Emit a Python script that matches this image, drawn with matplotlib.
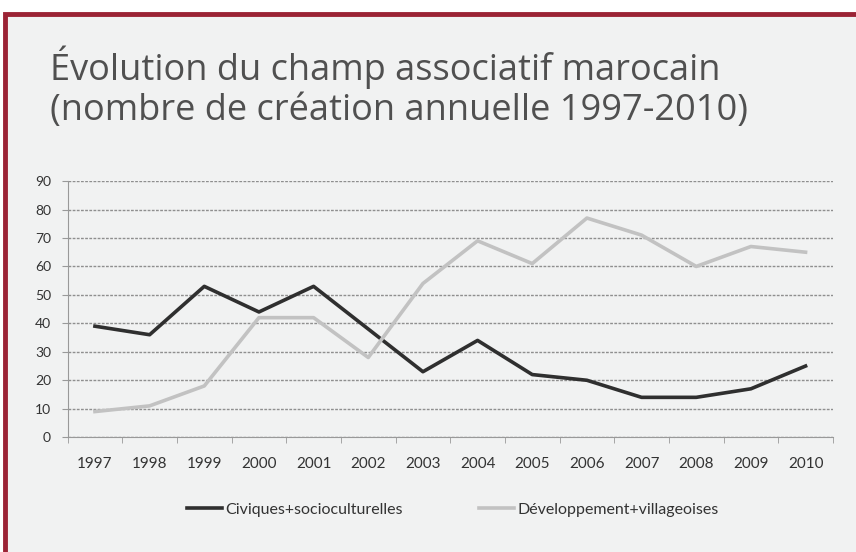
import matplotlib.pyplot as plt
from matplotlib.patches import Rectangle

years = [str(y) for y in range(1997, 2011)]
civiques = [39, 36, 53, 44, 53, 38, 23, 34, 22, 20, 14, 14, 17, 25]
developpement = [9, 11, 18, 42, 42, 28, 54, 69, 61, 77, 71, 60, 67, 65]
labels = ["Civiques+socioculturelles", "Développement+villageoises"]
title = "Évolution du champ associatif marocain\n(nombre de création annuelle 1997-2010)"

plt.rcParams['font.family'] = ['Lato', 'DejaVu Sans']

fig = plt.figure(figsize=(8.56, 5.52), dpi=100)
fig.patch.set_facecolor("white")

# scanned page background + red frame
fig.patches.append(Rectangle((0.006, -0.02), 1.0, 0.994, transform=fig.transFigure,
                             facecolor="#f1f2f2", edgecolor="#9b2335", linewidth=3.5,
                             zorder=-5))

fig.text(0.058, 0.842, title, fontsize=26, color="#505050", va="center",
         linespacing=1.15, family=['Open Sans', 'DejaVu Sans'])

ax = fig.add_axes([0.079, 0.208, 0.894, 0.464])
ax.set_facecolor("none")
x = range(len(years))
ax.plot(x, civiques, color="#2f2f2f", lw=2.6, label=labels[0])
ax.plot(x, developpement, color="#c2c2c2", lw=2.6, label=labels[1])

ax.set_xlim(-0.5, len(years) - 0.5)
ax.set_ylim(0, 90)
ax.set_yticks(range(0, 91, 10))
ax.set_xticks(x)
ax.set_xticklabels(years)
ax.grid(axis="y", color="#8f8f8f", lw=1, ls=(0, (2, 1)))
ax.set_axisbelow(True)
for s in ["top", "right"]:
    ax.spines[s].set_visible(False)
ax.spines["left"].set_color("#999999")
ax.spines["bottom"].set_color("#999999")
ax.tick_params(axis="y", length=4, color="#999999", labelsize=10, labelcolor="#333333", pad=8)
ax.tick_params(axis="x", length=0, labelsize=11, labelcolor="#333333", pad=14)
# minor ticks at category boundaries
ax.set_xticks([i - 0.5 for i in range(len(years) + 1)], minor=True)
ax.tick_params(axis="x", which="minor", length=4, color="#999999")

leg = fig.legend(loc="center", bbox_to_anchor=(0.529, 0.077), ncol=2, frameon=False,
                 fontsize=11.5, handlelength=2.2, handletextpad=0.2, columnspacing=4.8)
for t in leg.get_texts():
    t.set_color("#333333")

fig.savefig("out.png", dpi=100)
